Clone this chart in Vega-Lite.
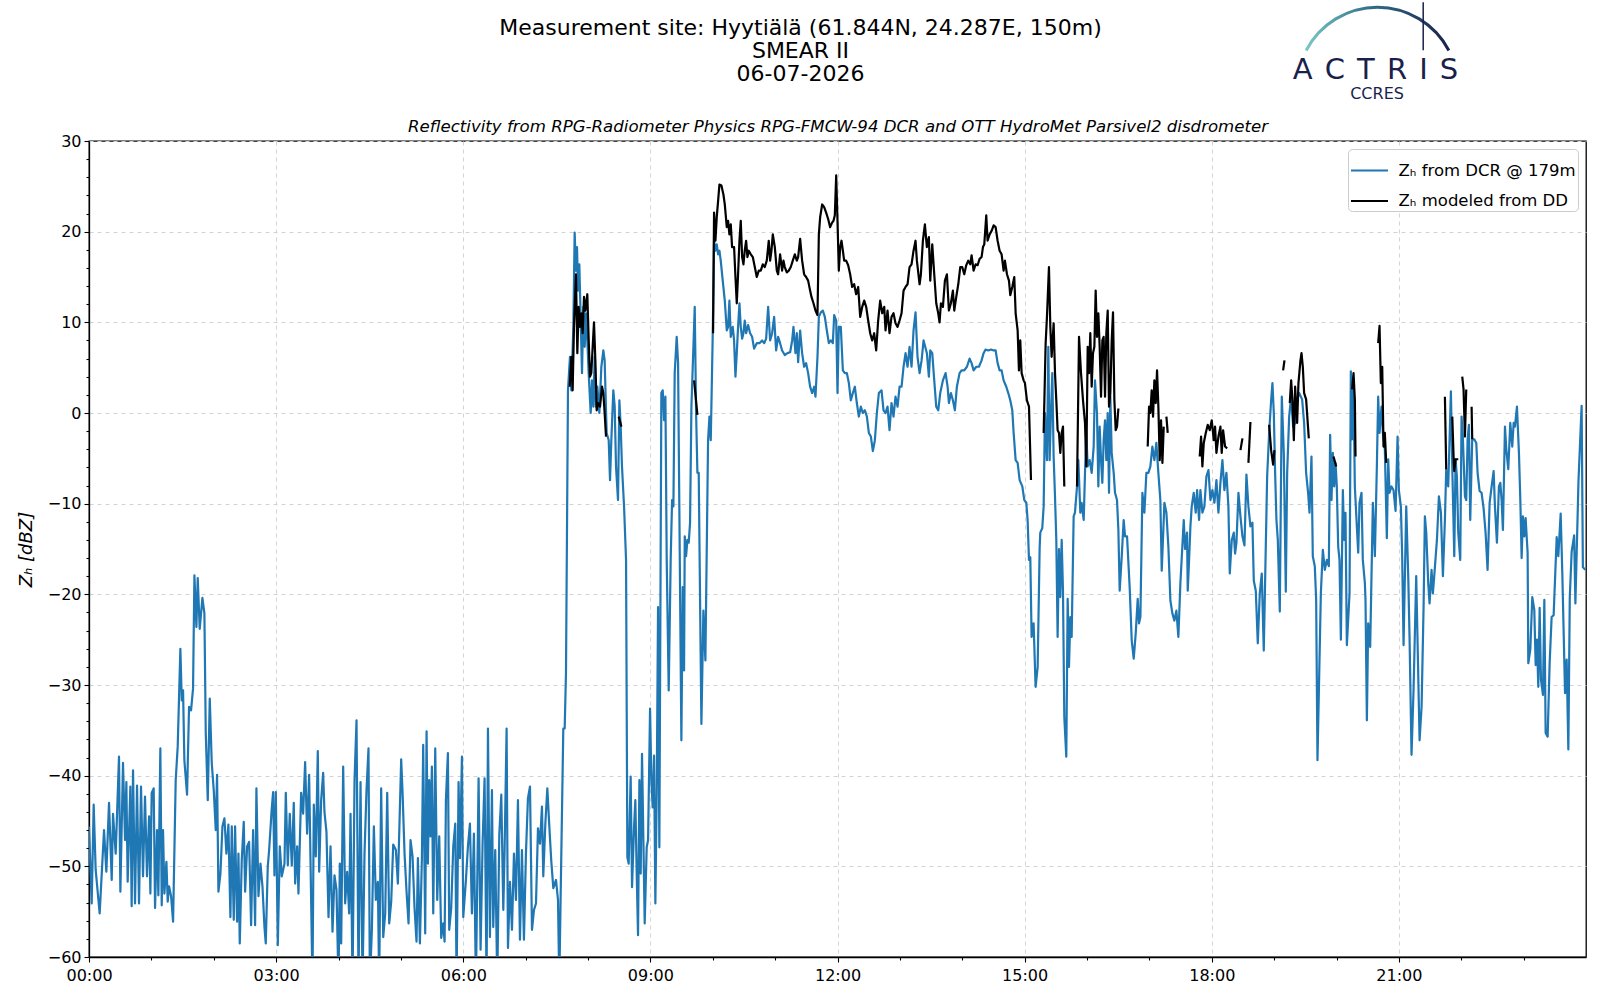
{
  "$schema": "https://vega.github.io/schema/vega-lite/v6.json",
  "width": 1497,
  "height": 816,
  "autosize": "none",
  "padding": {"left": 89, "top": 141, "right": 14, "bottom": 43},
  "background": "white",
  "config": {
    "font": "DejaVu Sans",
    "view": {"stroke": "black", "strokeWidth": 1.3},
    "axis": {"labelColor": "black", "tickColor": "black", "domainColor": "black", "tickWidth": 1.1, "domainWidth": 1.3},
    "legend": {
      "orient": "top-right", "offset": 8, "padding": 1.5, "rowPadding": 1.5,
      "fillColor": "white", "strokeColor": "#cccccc", "cornerRadius": 4,
      "symbolType": "stroke", "symbolSize": 1369, "symbolStrokeWidth": 2.2,
      "labelFontSize": 16.5, "labelOffset": 9, "labelColor": "black", "labelLimit": 400
    }
  },
  "title": {
    "text": ["Measurement site: Hyytiälä (61.844N, 24.287E, 150m)", "SMEAR II", "06-07-2026"],
    "fontSize": 22, "fontWeight": "normal", "lineHeight": 23, "color": "black",
    "anchor": "middle", "frame": "group", "dx": -37, "offset": -84
  },
  "datasets": {
    "logo": [{}],
    "dcr": [
      {"h":0.000,"z":-45.6},{"h":0.043,"z":-54.1},{"h":0.075,"z":-43.2},{"h":0.107,"z":-50.4},{"h":0.171,"z":-55.2},
      {"h":0.241,"z":-46},{"h":0.278,"z":-50.6},{"h":0.321,"z":-43},{"h":0.364,"z":-51.5},{"h":0.385,"z":-44.2},
      {"h":0.428,"z":-48.6},{"h":0.481,"z":-37.9},{"h":0.503,"z":-52.8},{"h":0.545,"z":-38.6},{"h":0.578,"z":-47.1},
      {"h":0.599,"z":-40.7},{"h":0.620,"z":-51.7},{"h":0.663,"z":-41.2},{"h":0.684,"z":-54.4},{"h":0.706,"z":-39.4},
      {"h":0.738,"z":-54.1},{"h":0.770,"z":-41.1},{"h":0.802,"z":-54.1},{"h":0.834,"z":-41.2},{"h":0.866,"z":-51.1},
      {"h":0.898,"z":-42.3},{"h":0.930,"z":-51.1},{"h":0.963,"z":-44.5},{"h":0.984,"z":-53},{"h":1.005,"z":-41.9},
      {"h":1.037,"z":-41.4},{"h":1.059,"z":-54.6},{"h":1.091,"z":-46},{"h":1.112,"z":-53.2},{"h":1.144,"z":-37},
      {"h":1.166,"z":-54.3},{"h":1.187,"z":-46},{"h":1.209,"z":-53},{"h":1.241,"z":-49.5},{"h":1.262,"z":-53.9},
      {"h":1.283,"z":-52.2},{"h":1.316,"z":-53.3},{"h":1.348,"z":-56.1},{"h":1.390,"z":-40.5},{"h":1.422,"z":-36.8},
      {"h":1.465,"z":-26},{"h":1.487,"z":-31.7},{"h":1.508,"z":-30.6},{"h":1.529,"z":-38.3},{"h":1.572,"z":-42.1},
      {"h":1.604,"z":-32.4},{"h":1.636,"z":-32.8},{"h":1.668,"z":-30.4},{"h":1.690,"z":-17.9},{"h":1.722,"z":-23.6},
      {"h":1.743,"z":-18.2},{"h":1.775,"z":-23.8},{"h":1.818,"z":-20.4},{"h":1.850,"z":-22.1},{"h":1.872,"z":-35.3},
      {"h":1.904,"z":-42.7},{"h":1.936,"z":-31.5},{"h":1.968,"z":-38.6},{"h":2.000,"z":-41.6},{"h":2.032,"z":-46},
      {"h":2.053,"z":-39.9},{"h":2.075,"z":-52.8},{"h":2.107,"z":-50.8},{"h":2.139,"z":-45.6},{"h":2.171,"z":-44.7},
      {"h":2.203,"z":-48.6},{"h":2.235,"z":-45.4},{"h":2.267,"z":-55.6},{"h":2.289,"z":-45.6},{"h":2.321,"z":-55.9},
      {"h":2.342,"z":-45.6},{"h":2.374,"z":-56.1},{"h":2.396,"z":-48.6},{"h":2.417,"z":-58.5},{"h":2.449,"z":-49.3},
      {"h":2.481,"z":-45.1},{"h":2.503,"z":-52.8},{"h":2.535,"z":-47.8},{"h":2.567,"z":-47.3},{"h":2.599,"z":-56.5},
      {"h":2.631,"z":-46},{"h":2.663,"z":-56.5},{"h":2.684,"z":-41.4},{"h":2.717,"z":-53.3},{"h":2.749,"z":-49.7},
      {"h":2.781,"z":-52.2},{"h":2.813,"z":-56.7},{"h":2.834,"z":-58.5},{"h":2.866,"z":-50},{"h":2.888,"z":-48.2},
      {"h":2.930,"z":-43.6},{"h":2.952,"z":-41.8},{"h":2.973,"z":-51},{"h":2.995,"z":-41.8},{"h":3.027,"z":-58.7},
      {"h":3.059,"z":-47.8},{"h":3.091,"z":-51.1},{"h":3.134,"z":-49.7},{"h":3.155,"z":-41.9},{"h":3.187,"z":-49.9},
      {"h":3.219,"z":-44.2},{"h":3.251,"z":-49.9},{"h":3.283,"z":-43},{"h":3.305,"z":-51.9},{"h":3.337,"z":-47.8},
      {"h":3.358,"z":-53},{"h":3.401,"z":-41.9},{"h":3.433,"z":-44.2},{"h":3.465,"z":-38.5},{"h":3.497,"z":-46.4},
      {"h":3.529,"z":-39.9},{"h":3.551,"z":-49.3},{"h":3.583,"z":-63},{"h":3.604,"z":-43.2},{"h":3.636,"z":-48.9},
      {"h":3.668,"z":-37.3},{"h":3.690,"z":-50.6},{"h":3.722,"z":-42.7},{"h":3.754,"z":-39.7},{"h":3.775,"z":-44},
      {"h":3.807,"z":-46.2},{"h":3.840,"z":-55.6},{"h":3.872,"z":-47.8},{"h":3.904,"z":-57.2},{"h":3.936,"z":-51},
      {"h":3.968,"z":-52.6},{"h":4.000,"z":-63},{"h":4.021,"z":-49.7},{"h":4.043,"z":-58.5},{"h":4.075,"z":-39},
      {"h":4.107,"z":-54.1},{"h":4.139,"z":-50.6},{"h":4.171,"z":-55.2},{"h":4.193,"z":-44.2},{"h":4.225,"z":-63},
      {"h":4.257,"z":-40.5},{"h":4.289,"z":-33.9},{"h":4.321,"z":-63},{"h":4.353,"z":-40.7},{"h":4.385,"z":-63},
      {"h":4.417,"z":-48.6},{"h":4.449,"z":-41.6},{"h":4.481,"z":-37},{"h":4.503,"z":-63},{"h":4.535,"z":-57},
      {"h":4.567,"z":-45.6},{"h":4.599,"z":-53.7},{"h":4.631,"z":-51.7},{"h":4.652,"z":-63},{"h":4.684,"z":-41.4},
      {"h":4.717,"z":-57.8},{"h":4.749,"z":-55.2},{"h":4.781,"z":-41.9},{"h":4.813,"z":-56.3},{"h":4.845,"z":-53.9},
      {"h":4.877,"z":-47.6},{"h":4.920,"z":-48.2},{"h":4.952,"z":-51.9},{"h":5.005,"z":-38.2},{"h":5.027,"z":-41.9},
      {"h":5.059,"z":-48.6},{"h":5.091,"z":-52.8},{"h":5.123,"z":-56.3},{"h":5.155,"z":-47.1},{"h":5.187,"z":-48.9},
      {"h":5.219,"z":-54.6},{"h":5.251,"z":-58.3},{"h":5.273,"z":-49.1},{"h":5.305,"z":-58.5},{"h":5.337,"z":-49.1},
      {"h":5.358,"z":-36.6},{"h":5.390,"z":-57.4},{"h":5.412,"z":-35.1},{"h":5.433,"z":-49.7},{"h":5.455,"z":-40.5},
      {"h":5.476,"z":-46.7},{"h":5.497,"z":-39},{"h":5.519,"z":-55.2},{"h":5.551,"z":-37},{"h":5.583,"z":-53.7},
      {"h":5.615,"z":-46.7},{"h":5.647,"z":-57.9},{"h":5.679,"z":-56.3},{"h":5.701,"z":-58.3},{"h":5.722,"z":-42.7},
      {"h":5.754,"z":-37.5},{"h":5.775,"z":-57},{"h":5.807,"z":-54.6},{"h":5.840,"z":-47.8},{"h":5.872,"z":-45.3},
      {"h":5.893,"z":-63},{"h":5.925,"z":-40.7},{"h":5.947,"z":-49.1},{"h":5.979,"z":-37.9},{"h":6.000,"z":-55.6},
      {"h":6.043,"z":-51.5},{"h":6.075,"z":-47.8},{"h":6.107,"z":-45.3},{"h":6.139,"z":-55.2},{"h":6.171,"z":-46.4},
      {"h":6.203,"z":-63},{"h":6.246,"z":-40.3},{"h":6.278,"z":-59.2},{"h":6.310,"z":-47.5},{"h":6.342,"z":-40.3},
      {"h":6.374,"z":-63},{"h":6.396,"z":-34.8},{"h":6.428,"z":-57.8},{"h":6.460,"z":-41.6},{"h":6.481,"z":-56.7},
      {"h":6.513,"z":-48.2},{"h":6.545,"z":-63},{"h":6.578,"z":-46.5},{"h":6.610,"z":-42.1},{"h":6.642,"z":-54.8},
      {"h":6.663,"z":-48.2},{"h":6.695,"z":-34.8},{"h":6.717,"z":-59},{"h":6.749,"z":-51.7},{"h":6.781,"z":-57},
      {"h":6.813,"z":-48.6},{"h":6.845,"z":-53.7},{"h":6.877,"z":-42.7},{"h":6.909,"z":-58.1},{"h":6.941,"z":-48.2},
      {"h":6.973,"z":-58.1},{"h":7.005,"z":-48.6},{"h":7.037,"z":-42.5},{"h":7.070,"z":-41.2},{"h":7.102,"z":-57},
      {"h":7.134,"z":-54.8},{"h":7.166,"z":-54.1},{"h":7.198,"z":-45.8},{"h":7.230,"z":-47.5},{"h":7.262,"z":-43.4},
      {"h":7.283,"z":-51.1},{"h":7.316,"z":-45.3},{"h":7.348,"z":-41.4},{"h":7.380,"z":-45.6},{"h":7.412,"z":-49.5},
      {"h":7.444,"z":-52.4},{"h":7.487,"z":-51.5},{"h":7.519,"z":-53.7},{"h":7.540,"z":-63},{"h":7.561,"z":-53.5},
      {"h":7.604,"z":-34.8},{"h":7.626,"z":-34.8},{"h":7.647,"z":-28.7},
      {"h":7.679,"z":2.5},{"h":7.711,"z":6.2},{"h":7.733,"z":2.5},{"h":7.765,"z":9.5},{"h":7.786,"z":19.9},
      {"h":7.807,"z":15.7},{"h":7.824,"z":18.3},{"h":7.840,"z":13.5},{"h":7.861,"z":16.4},{"h":7.882,"z":10.6},
      {"h":7.904,"z":4.4},{"h":7.925,"z":11.7},{"h":7.947,"z":7.3},{"h":7.968,"z":11},{"h":7.989,"z":8},
      {"h":8.011,"z":4.4},{"h":8.043,"z":0},{"h":8.064,"z":3.6},{"h":8.086,"z":0.7},{"h":8.107,"z":6.2},
      {"h":8.128,"z":0.7},{"h":8.150,"z":2.9},{"h":8.182,"z":0},{"h":8.214,"z":5.1},{"h":8.246,"z":6.9},
      {"h":8.267,"z":5.8},{"h":8.299,"z":-2.2},{"h":8.332,"z":-3},{"h":8.353,"z":-7.4},{"h":8.374,"z":-3},
      {"h":8.406,"z":2.5},{"h":8.428,"z":0.7},{"h":8.449,"z":-5.9},{"h":8.481,"z":-9.6},{"h":8.503,"z":1.4},
      {"h":8.524,"z":-1.5},{"h":8.545,"z":-5.9},{"h":8.578,"z":-10.3},{"h":8.610,"z":-16.2},{"h":8.631,"z":-49},
      {"h":8.652,"z":-49.7},{"h":8.684,"z":-40.1},{"h":8.706,"z":-52.3},{"h":8.738,"z":-45.7},{"h":8.759,"z":-42.7},
      {"h":8.781,"z":-50.8},{"h":8.802,"z":-57.6},{"h":8.824,"z":-40.5},{"h":8.845,"z":-50.8},{"h":8.866,"z":-37.6},
      {"h":8.888,"z":-47.1},{"h":8.909,"z":-56.3},{"h":8.941,"z":-47.9},{"h":8.963,"z":-47.1},{"h":8.995,"z":-32.6},
      {"h":9.016,"z":-40.5},{"h":9.037,"z":-43.5},{"h":9.059,"z":-37.8},{"h":9.080,"z":-54.1},{"h":9.102,"z":-41.6},
      {"h":9.123,"z":-21.4},{"h":9.144,"z":-47.9},{"h":9.176,"z":2.2},{"h":9.198,"z":2.5},{"h":9.219,"z":-0.8},
      {"h":9.241,"z":1.8},{"h":9.262,"z":-16.2},{"h":9.294,"z":-30.6},{"h":9.326,"z":-16},{"h":9.348,"z":-9.6},
      {"h":9.369,"z":-10.3},{"h":9.390,"z":4.4},{"h":9.422,"z":8.4},{"h":9.444,"z":5.5},{"h":9.497,"z":-36.1},
      {"h":9.519,"z":-19.2},{"h":9.540,"z":-28.4},{"h":9.551,"z":-13.6},{"h":9.572,"z":-15.8},{"h":9.594,"z":-14},
      {"h":9.615,"z":-14.3},{"h":9.636,"z":-12.1},{"h":9.658,"z":0.7},{"h":9.690,"z":7.3},{"h":9.711,"z":11.7},
      {"h":9.733,"z":0},{"h":9.754,"z":-6.6},{"h":9.775,"z":-6.6},{"h":9.818,"z":-34.3},{"h":9.850,"z":-21.8},
      {"h":9.882,"z":-27.3},{"h":9.925,"z":-3},{"h":9.947,"z":-0.4},{"h":9.968,"z":-3},{"h":10.000,"z":8.8},
      {"h":10.021,"z":19},{"h":10.043,"z":17.9},{"h":10.064,"z":18.6},{"h":10.086,"z":17.5},{"h":10.107,"z":17.9},
      {"h":10.128,"z":16.8},{"h":10.160,"z":14.6},{"h":10.193,"z":12.4},{"h":10.225,"z":9.1},{"h":10.246,"z":9.5},
      {"h":10.267,"z":12.4},{"h":10.289,"z":8.4},{"h":10.321,"z":9.5},{"h":10.342,"z":8},{"h":10.364,"z":4},
      {"h":10.385,"z":6.6},{"h":10.406,"z":9.5},{"h":10.428,"z":12.1},{"h":10.449,"z":9.5},{"h":10.471,"z":8.2},
      {"h":10.492,"z":8.8},{"h":10.513,"z":10.2},{"h":10.535,"z":8.8},{"h":10.567,"z":9.7},{"h":10.599,"z":8.8},
      {"h":10.631,"z":8.4},{"h":10.663,"z":7.1},{"h":10.706,"z":7.7},{"h":10.749,"z":7.7},{"h":10.791,"z":8},
      {"h":10.824,"z":7.7},{"h":10.856,"z":8.2},{"h":10.888,"z":11.7},{"h":10.920,"z":8},{"h":10.952,"z":8.8},
      {"h":10.984,"z":10.6},{"h":11.016,"z":6.9},{"h":11.048,"z":8.4},{"h":11.080,"z":7.7},{"h":11.112,"z":6.9},
      {"h":11.155,"z":6.4},{"h":11.198,"z":6.6},{"h":11.241,"z":6.7},{"h":11.273,"z":8},{"h":11.294,"z":9.5},
      {"h":11.326,"z":6.6},{"h":11.348,"z":8.8},{"h":11.369,"z":5.6},{"h":11.401,"z":9.1},{"h":11.433,"z":6.6},
      {"h":11.465,"z":5.1},{"h":11.497,"z":5.5},{"h":11.529,"z":4.4},{"h":11.561,"z":2.9},{"h":11.594,"z":2.2},
      {"h":11.626,"z":2.9},{"h":11.647,"z":1.8},{"h":11.679,"z":6.2},{"h":11.701,"z":10.6},{"h":11.733,"z":11.1},
      {"h":11.765,"z":11.3},{"h":11.797,"z":10.6},{"h":11.829,"z":9.1},{"h":11.861,"z":7.7},{"h":11.893,"z":8},
      {"h":11.925,"z":7.7},{"h":11.947,"z":10.8},{"h":11.979,"z":10.2},{"h":12.000,"z":2.2},{"h":12.021,"z":9.5},
      {"h":12.053,"z":9.5},{"h":12.086,"z":4.7},{"h":12.118,"z":4.4},{"h":12.150,"z":4.4},{"h":12.182,"z":3.3},
      {"h":12.214,"z":1.4},{"h":12.246,"z":2.2},{"h":12.278,"z":2.9},{"h":12.310,"z":1.1},{"h":12.342,"z":-0.4},
      {"h":12.374,"z":0.7},{"h":12.406,"z":0},{"h":12.439,"z":0.3},{"h":12.471,"z":-0.4},{"h":12.503,"z":-2.2},
      {"h":12.535,"z":-2.6},{"h":12.567,"z":-4.2},{"h":12.599,"z":-3},{"h":12.631,"z":0},{"h":12.663,"z":2.2},
      {"h":12.706,"z":2.5},{"h":12.738,"z":0.3},{"h":12.770,"z":0},{"h":12.802,"z":0.7},{"h":12.834,"z":-1.9},
      {"h":12.866,"z":1.1},{"h":12.898,"z":-0.4},{"h":12.930,"z":1.8},{"h":12.963,"z":0.7},{"h":12.995,"z":2.9},
      {"h":13.027,"z":2.9},{"h":13.059,"z":5.1},{"h":13.091,"z":6.6},{"h":13.123,"z":5.1},{"h":13.155,"z":7.3},
      {"h":13.187,"z":5.1},{"h":13.219,"z":9.1},{"h":13.251,"z":11.1},{"h":13.283,"z":6.2},{"h":13.316,"z":4.4},
      {"h":13.348,"z":5.8},{"h":13.380,"z":8},
      {"h":13.433,"z":6.6},{"h":13.465,"z":4},{"h":13.487,"z":6.9},{"h":13.519,"z":6.6},{"h":13.551,"z":3.6},
      {"h":13.583,"z":0.7},{"h":13.615,"z":0.3},{"h":13.647,"z":2.2},{"h":13.690,"z":3.6},{"h":13.733,"z":4.4},
      {"h":13.765,"z":2.9},{"h":13.786,"z":1.1},{"h":13.818,"z":2.2},{"h":13.850,"z":1.4},{"h":13.882,"z":0.3},
      {"h":13.914,"z":2.9},{"h":13.957,"z":4.4},{"h":13.989,"z":4.7},{"h":14.032,"z":4.7},{"h":14.075,"z":5.1},
      {"h":14.118,"z":6},{"h":14.150,"z":5.5},{"h":14.182,"z":4.7},{"h":14.225,"z":5.1},{"h":14.267,"z":5.1},
      {"h":14.310,"z":5.8},{"h":14.342,"z":6.6},{"h":14.374,"z":7},{"h":14.417,"z":6.9},{"h":14.460,"z":7},
      {"h":14.503,"z":6.9},{"h":14.535,"z":6.9},{"h":14.567,"z":5.5},{"h":14.599,"z":4.7},{"h":14.631,"z":4.7},
      {"h":14.663,"z":3.6},{"h":14.706,"z":2.9},{"h":14.738,"z":2.2},{"h":14.770,"z":1.4},{"h":14.802,"z":0.3},
      {"h":14.824,"z":-2.2},{"h":14.856,"z":-5.2},{"h":14.888,"z":-5.5},{"h":14.920,"z":-7.4},{"h":14.963,"z":-8.1},
      {"h":14.995,"z":-9.6},{"h":15.027,"z":-9.9},{"h":15.048,"z":-11.8},{"h":15.070,"z":-16.2},{"h":15.091,"z":-15.9},
      {"h":15.112,"z":-24.7},{"h":15.144,"z":-23.2},{"h":15.176,"z":-30.2},{"h":15.209,"z":-28},{"h":15.241,"z":-14.8},
      {"h":15.251,"z":-13.2},{"h":15.283,"z":-12.7},{"h":15.305,"z":-10.3},{"h":15.326,"z":0},{"h":15.358,"z":-5.2},
      {"h":15.380,"z":7.3},{"h":15.401,"z":-5.2},{"h":15.422,"z":0},{"h":15.444,"z":4.4},{"h":15.465,"z":-4.8},
      {"h":15.487,"z":-9.2},{"h":15.508,"z":-14},{"h":15.529,"z":-24.7},{"h":15.551,"z":-15},{"h":15.572,"z":-20.3},
      {"h":15.594,"z":-14},{"h":15.615,"z":-19.6},{"h":15.636,"z":-33.5},{"h":15.668,"z":-37.9},{"h":15.690,"z":-20.5},
      {"h":15.711,"z":-28},{"h":15.733,"z":-22.5},{"h":15.754,"z":-24.7},{"h":15.786,"z":-11.4},{"h":15.807,"z":-11},
      {"h":15.840,"z":-8.1},{"h":15.861,"z":-5.2},{"h":15.893,"z":-11},{"h":15.914,"z":-9.9},{"h":15.947,"z":-11.8},
      {"h":15.968,"z":-6.6},{"h":15.989,"z":-2.2},{"h":16.011,"z":-5.9},{"h":16.043,"z":-5.2},{"h":16.075,"z":-6.6},
      {"h":16.107,"z":-3.7},{"h":16.128,"z":3.6},{"h":16.160,"z":0},{"h":16.182,"z":-8.1},{"h":16.203,"z":-1.5},
      {"h":16.225,"z":-5.2},{"h":16.246,"z":-7.7},{"h":16.267,"z":-3},{"h":16.289,"z":-0.8},{"h":16.310,"z":-5.2},
      {"h":16.332,"z":0},{"h":16.353,"z":-8.8},{"h":16.374,"z":1.8},{"h":16.396,"z":-4.4},{"h":16.428,"z":-6.6},
      {"h":16.449,"z":-8.8},{"h":16.481,"z":-9.6},{"h":16.503,"z":-12.9},{"h":16.524,"z":-19.6},{"h":16.556,"z":-15.9},
      {"h":16.588,"z":-11.8},{"h":16.610,"z":-13.6},{"h":16.642,"z":-13.6},{"h":16.684,"z":-19.2},{"h":16.717,"z":-25.1},
      {"h":16.749,"z":-27.1},{"h":16.781,"z":-24.3},{"h":16.813,"z":-20.5},{"h":16.834,"z":-23.2},{"h":16.856,"z":-22.5},
      {"h":16.888,"z":-8.8},{"h":16.920,"z":-11},{"h":16.952,"z":-6.6},{"h":16.984,"z":-6.6},{"h":17.016,"z":-5.9},
      {"h":17.048,"z":-3.7},{"h":17.080,"z":-5.2},{"h":17.112,"z":-3.3},{"h":17.144,"z":-6.6},{"h":17.176,"z":-9.6},
      {"h":17.198,"z":-17.4},{"h":17.241,"z":-9.9},{"h":17.273,"z":-11},{"h":17.305,"z":-14.8},{"h":17.337,"z":-20.7},
      {"h":17.369,"z":-22.1},{"h":17.401,"z":-22.9},{"h":17.433,"z":-21.8},{"h":17.465,"z":-24.7},{"h":17.497,"z":-18.8},
      {"h":17.551,"z":-11.8},{"h":17.572,"z":-15},{"h":17.604,"z":-13.2},{"h":17.615,"z":-19.6},{"h":17.636,"z":-16.3},
      {"h":17.658,"z":-12.5},{"h":17.679,"z":-10.3},{"h":17.711,"z":-8.8},{"h":17.743,"z":-11},{"h":17.765,"z":-8.5},
      {"h":17.797,"z":-11.8},{"h":17.818,"z":-8.5},{"h":17.850,"z":-11},{"h":17.882,"z":-10.3},{"h":17.914,"z":-7},
      {"h":17.947,"z":-6.3},{"h":17.979,"z":-9.6},{"h":18.011,"z":-8.5},{"h":18.043,"z":-9.9},{"h":18.075,"z":-7.4},
      {"h":18.107,"z":-11},{"h":18.139,"z":-7.7},{"h":18.171,"z":-5.2},{"h":18.203,"z":-8.5},{"h":18.235,"z":-6.6},
      {"h":18.267,"z":-10.3},{"h":18.289,"z":-17.7},{"h":18.321,"z":-14},{"h":18.353,"z":-13.2},{"h":18.374,"z":-15.5},
      {"h":18.396,"z":-14.3},{"h":18.428,"z":-8.8},{"h":18.460,"z":-11.4},{"h":18.492,"z":-13.6},{"h":18.524,"z":-14.6},
      {"h":18.556,"z":-6.8},{"h":18.588,"z":-10.3},{"h":18.620,"z":-12.5},{"h":18.652,"z":-12.1},{"h":18.674,"z":-18.5},
      {"h":18.706,"z":-19.6},{"h":18.738,"z":-25.4},{"h":18.770,"z":-19.9},{"h":18.802,"z":-17.7},{"h":18.834,"z":-26.2},
      {"h":18.888,"z":-7},{"h":18.920,"z":-2.2},{"h":18.952,"z":1.4},{"h":18.973,"z":3.3},{"h":18.995,"z":0},
      {"h":19.016,"z":-6.6},{"h":19.037,"z":-11.8},{"h":19.059,"z":-14},{"h":19.091,"z":-21.9},{"h":19.123,"z":1.8},
      {"h":19.155,"z":-4.4},{"h":19.187,"z":-19.7},{"h":19.209,"z":-6.6},{"h":19.241,"z":-0.4},{"h":19.273,"z":1.8},
      {"h":19.305,"z":-1.5},{"h":19.337,"z":-1.1},{"h":19.369,"z":1.4},{"h":19.401,"z":2.2},
      {"h":19.449,"z":1.5},{"h":19.481,"z":-1.1},{"h":19.513,"z":-6.6},{"h":19.545,"z":-8.8},{"h":19.567,"z":-11},
      {"h":19.599,"z":-4.8},{"h":19.620,"z":-15.8},{"h":19.652,"z":-16.9},{"h":19.674,"z":-20.6},{"h":19.695,"z":-38.3},
      {"h":19.749,"z":-19.9},{"h":19.781,"z":-15.1},{"h":19.813,"z":-17.3},{"h":19.845,"z":-16.2},{"h":19.877,"z":-16.9},
      {"h":19.898,"z":-2.4},{"h":19.920,"z":-9.6},{"h":19.941,"z":-4.4},{"h":19.963,"z":-8.1},{"h":19.984,"z":-5.5},
      {"h":20.005,"z":-8.1},{"h":20.027,"z":-14.7},{"h":20.048,"z":-16.2},{"h":20.070,"z":-25},{"h":20.102,"z":-8.5},
      {"h":20.123,"z":-14},{"h":20.144,"z":-11},{"h":20.166,"z":-25.6},{"h":20.209,"z":-19.9},{"h":20.230,"z":4.6},
      {"h":20.251,"z":-2.9},{"h":20.273,"z":2.9},{"h":20.294,"z":-8.1},{"h":20.326,"z":-12.5},{"h":20.348,"z":-15.4},
      {"h":20.369,"z":-9.9},{"h":20.401,"z":-8.8},{"h":20.422,"z":-16.2},{"h":20.455,"z":-18.8},{"h":20.465,"z":-20.6},
      {"h":20.487,"z":-33.9},{"h":20.508,"z":-23.2},{"h":20.540,"z":-25.8},{"h":20.583,"z":-9.9},{"h":20.615,"z":-15.8},
      {"h":20.647,"z":-5.9},{"h":20.668,"z":1.8},{"h":20.690,"z":-2.2},{"h":20.722,"z":0.7},{"h":20.743,"z":-2.2},
      {"h":20.775,"z":-4},{"h":20.807,"z":-13.8},{"h":20.829,"z":-5.1},{"h":20.850,"z":-8.8},{"h":20.882,"z":-8.1},
      {"h":20.914,"z":-8.5},{"h":20.947,"z":-10.8},{"h":20.979,"z":-2.6},{"h":21.000,"z":-8.5},{"h":21.032,"z":-10.3},
      {"h":21.053,"z":-15.8},{"h":21.075,"z":-25.6},{"h":21.118,"z":-10.3},{"h":21.150,"z":-18},{"h":21.171,"z":-24.7},
      {"h":21.203,"z":-37.7},{"h":21.235,"z":-30.6},{"h":21.278,"z":-18},{"h":21.332,"z":-36.1},{"h":21.364,"z":-32.4},
      {"h":21.396,"z":-21.4},{"h":21.417,"z":-11.4},{"h":21.439,"z":-13.2},{"h":21.471,"z":-18.8},{"h":21.492,"z":-21},
      {"h":21.524,"z":-17.3},{"h":21.545,"z":-19.9},{"h":21.567,"z":-18},{"h":21.610,"z":-14},{"h":21.642,"z":-9.2},
      {"h":21.674,"z":-11},{"h":21.706,"z":-18},{"h":21.738,"z":-11.8},{"h":21.759,"z":-6.2},{"h":21.791,"z":-8.1},
      {"h":21.813,"z":-2.9},{"h":21.834,"z":2.4},{"h":21.856,"z":-5.9},{"h":21.888,"z":-15.8},{"h":21.909,"z":-5.1},
      {"h":21.930,"z":-7},{"h":21.952,"z":-13.2},{"h":21.984,"z":-16.2},{"h":22.005,"z":-0.4},{"h":22.027,"z":-2.9},
      {"h":22.059,"z":-9.2},{"h":22.080,"z":-9.6},{"h":22.102,"z":-2.9},{"h":22.123,"z":-1.3},{"h":22.144,"z":-11.8},
      {"h":22.176,"z":-2.9},{"h":22.209,"z":-2.9},{"h":22.241,"z":-3.3},{"h":22.262,"z":-6.6},{"h":22.294,"z":-8.6},
      {"h":22.326,"z":-8.8},{"h":22.358,"z":-10.5},{"h":22.390,"z":-13.2},{"h":22.422,"z":-17.3},{"h":22.455,"z":-9.9},
      {"h":22.487,"z":-8.1},{"h":22.519,"z":-6.4},{"h":22.540,"z":-10.3},{"h":22.572,"z":-14.3},{"h":22.604,"z":-8.1},
      {"h":22.626,"z":-7.7},{"h":22.647,"z":-9.6},{"h":22.668,"z":-12.9},{"h":22.701,"z":-1.5},{"h":22.722,"z":-4},
      {"h":22.754,"z":-6.2},{"h":22.786,"z":-1.1},{"h":22.818,"z":-3.7},{"h":22.840,"z":-1.1},{"h":22.861,"z":-1.5},
      {"h":22.893,"z":0.7},{"h":22.925,"z":-4.4},{"h":22.947,"z":-9.6},{"h":22.968,"z":-16},{"h":22.989,"z":-11.4},
      {"h":23.011,"z":-13.6},{"h":23.032,"z":-11.6},{"h":23.064,"z":-15.4},{"h":23.075,"z":-27.6},{"h":23.107,"z":-26.1},
      {"h":23.139,"z":-20.3},{"h":23.171,"z":-21.7},{"h":23.193,"z":-27.8},{"h":23.214,"z":-25},{"h":23.235,"z":-30.2},
      {"h":23.257,"z":-21.5},{"h":23.278,"z":-29.4},{"h":23.310,"z":-31.1},{"h":23.332,"z":-20.6},{"h":23.353,"z":-35.3},
      {"h":23.385,"z":-35.7},{"h":23.417,"z":-27.6},{"h":23.449,"z":-22.5},{"h":23.481,"z":-22.3},{"h":23.530,"z":-13.7},
      {"h":23.556,"z":-15.8},{"h":23.594,"z":-11.1},{"h":23.620,"z":-17.6},{"h":23.664,"z":-30.9},{"h":23.690,"z":-27.2},
      {"h":23.717,"z":-37.1},{"h":23.740,"z":-20.3},{"h":23.770,"z":-15.3},{"h":23.810,"z":-13.5},{"h":23.830,"z":-21},
      {"h":23.880,"z":-7.4},{"h":23.930,"z":0.8},{"h":23.950,"z":-17},{"h":23.990,"z":-17.3}
    ],
    "dd": [
      {"h":7.706,"z":2.9,"seg":1},{"h":7.733,"z":6.2,"seg":1},{"h":7.754,"z":2.5,"seg":1},{"h":7.775,"z":9.5,"seg":1},
      {"h":7.807,"z":15.3,"seg":1},{"h":7.829,"z":6.6,"seg":1},{"h":7.850,"z":11.7,"seg":1},{"h":7.872,"z":9.5,"seg":1},
      {"h":7.893,"z":11,"seg":1},{"h":7.914,"z":8.8,"seg":1},{"h":7.936,"z":12.8,"seg":1},{"h":7.957,"z":11.3,"seg":1},
      {"h":7.989,"z":13.1,"seg":1},{"h":8.011,"z":8,"seg":1},{"h":8.032,"z":4,"seg":1},{"h":8.053,"z":4.4,"seg":1},
      {"h":8.075,"z":7.3,"seg":1},{"h":8.096,"z":10,"seg":1},{"h":8.118,"z":5.8,"seg":1},{"h":8.139,"z":0.3,"seg":1},
      {"h":8.160,"z":1.1,"seg":1},{"h":8.193,"z":0.7,"seg":1},{"h":8.225,"z":2.9,"seg":1},{"h":8.246,"z":2.2,"seg":1},
      {"h":8.267,"z":0,"seg":1},{"h":8.289,"z":-2.6,"seg":1},
      {"h":8.492,"z":-0.4,"seg":2},{"h":8.535,"z":-1.5,"seg":2},
      {"h":9.701,"z":3.6,"seg":3},{"h":9.754,"z":-0.2,"seg":3},
      {"h":10.005,"z":8.8,"seg":4},{"h":10.021,"z":22.1,"seg":4},{"h":10.043,"z":19,"seg":4},{"h":10.064,"z":21.6,"seg":4},
      {"h":10.086,"z":23.4,"seg":4},{"h":10.107,"z":25.2,"seg":4},{"h":10.139,"z":25.1,"seg":4},{"h":10.171,"z":24.1,"seg":4},
      {"h":10.193,"z":23,"seg":4},{"h":10.225,"z":20.5,"seg":4},{"h":10.246,"z":21.2,"seg":4},{"h":10.267,"z":19.7,"seg":4},
      {"h":10.289,"z":20.8,"seg":4},{"h":10.310,"z":18.3,"seg":4},{"h":10.342,"z":18.3,"seg":4},{"h":10.364,"z":15,"seg":4},
      {"h":10.385,"z":12.1,"seg":4},{"h":10.406,"z":15.3,"seg":4},{"h":10.428,"z":19,"seg":4},{"h":10.449,"z":21.2,"seg":4},
      {"h":10.471,"z":17.2,"seg":4},{"h":10.492,"z":16.4,"seg":4},{"h":10.513,"z":17.9,"seg":4},{"h":10.535,"z":19,"seg":4},
      {"h":10.556,"z":17.2,"seg":4},{"h":10.578,"z":17.9,"seg":4},{"h":10.610,"z":17.5,"seg":4},{"h":10.642,"z":17.2,"seg":4},
      {"h":10.674,"z":16.1,"seg":4},{"h":10.706,"z":15,"seg":4},{"h":10.738,"z":15.7,"seg":4},{"h":10.770,"z":15.7,"seg":4},
      {"h":10.802,"z":16.4,"seg":4},{"h":10.834,"z":16.1,"seg":4},{"h":10.866,"z":16.8,"seg":4},{"h":10.898,"z":19,"seg":4},
      {"h":10.920,"z":16.8,"seg":4},{"h":10.941,"z":17.9,"seg":4},{"h":10.963,"z":19.7,"seg":4},{"h":10.995,"z":18.3,"seg":4},
      {"h":11.027,"z":15.7,"seg":4},{"h":11.048,"z":15.3,"seg":4},{"h":11.080,"z":17.5,"seg":4},{"h":11.112,"z":15.7,"seg":4},
      {"h":11.134,"z":16.8,"seg":4},{"h":11.155,"z":16.1,"seg":4},{"h":11.187,"z":15.5,"seg":4},{"h":11.219,"z":15.7,"seg":4},
      {"h":11.251,"z":16.1,"seg":4},{"h":11.283,"z":16.8,"seg":4},{"h":11.316,"z":17.5,"seg":4},{"h":11.348,"z":16.8,"seg":4},
      {"h":11.369,"z":17.2,"seg":4},{"h":11.401,"z":19.2,"seg":4},{"h":11.433,"z":16.8,"seg":4},{"h":11.465,"z":15.3,"seg":4},
      {"h":11.497,"z":15,"seg":4},{"h":11.529,"z":14.6,"seg":4},{"h":11.561,"z":13.5,"seg":4},{"h":11.583,"z":12.8,"seg":4},
      {"h":11.615,"z":12.1,"seg":4},{"h":11.647,"z":11.3,"seg":4},{"h":11.679,"z":10.8,"seg":4},{"h":11.701,"z":19.7,"seg":4},
      {"h":11.722,"z":21.6,"seg":4},{"h":11.754,"z":23,"seg":4},{"h":11.786,"z":22.7,"seg":4},{"h":11.818,"z":22.1,"seg":4},
      {"h":11.850,"z":21.4,"seg":4},{"h":11.882,"z":20.5,"seg":4},{"h":11.914,"z":21,"seg":4},{"h":11.936,"z":21.2,"seg":4},
      {"h":11.957,"z":21.8,"seg":4},{"h":11.979,"z":26.2,"seg":4},{"h":12.000,"z":21.2,"seg":4},{"h":12.021,"z":15.7,"seg":4},
      {"h":12.043,"z":18.3,"seg":4},{"h":12.064,"z":19,"seg":4},{"h":12.086,"z":17.9,"seg":4},{"h":12.107,"z":16.8,"seg":4},
      {"h":12.139,"z":16.8,"seg":4},{"h":12.171,"z":16.3,"seg":4},{"h":12.203,"z":15.3,"seg":4},{"h":12.235,"z":13.9,"seg":4},
      {"h":12.267,"z":14.2,"seg":4},{"h":12.299,"z":13.1,"seg":4},{"h":12.332,"z":13.9,"seg":4},{"h":12.364,"z":10.6,"seg":4},
      {"h":12.396,"z":11.7,"seg":4},{"h":12.428,"z":12.4,"seg":4},{"h":12.460,"z":11.7,"seg":4},{"h":12.492,"z":10.2,"seg":4},
      {"h":12.524,"z":8.8,"seg":4},{"h":12.556,"z":8,"seg":4},{"h":12.588,"z":8.8,"seg":4},{"h":12.620,"z":6.9,"seg":4},
      {"h":12.652,"z":10.2,"seg":4},{"h":12.684,"z":12.4,"seg":4},{"h":12.717,"z":11,"seg":4},{"h":12.749,"z":11.7,"seg":4},
      {"h":12.770,"z":9.1,"seg":4},{"h":12.802,"z":11.3,"seg":4},{"h":12.834,"z":8.8,"seg":4},{"h":12.866,"z":10.6,"seg":4},
      {"h":12.898,"z":11,"seg":4},{"h":12.930,"z":9.9,"seg":4},{"h":12.963,"z":9.5,"seg":4},{"h":12.995,"z":10.2,"seg":4},
      {"h":13.027,"z":11,"seg":4},{"h":13.059,"z":13.5,"seg":4},{"h":13.091,"z":13.9,"seg":4},{"h":13.123,"z":14.2,"seg":4},
      {"h":13.155,"z":16.1,"seg":4},{"h":13.187,"z":16.4,"seg":4},{"h":13.219,"z":17.9,"seg":4},{"h":13.251,"z":19,"seg":4},
      {"h":13.273,"z":16.8,"seg":4},{"h":13.316,"z":14.2,"seg":4},{"h":13.337,"z":15.3,"seg":4},{"h":13.369,"z":19,"seg":4},
      {"h":13.401,"z":20.8,"seg":4},{"h":13.433,"z":18.3,"seg":4},{"h":13.465,"z":19.4,"seg":4},{"h":13.487,"z":14.6,"seg":4},
      {"h":13.519,"z":18.6,"seg":4},{"h":13.551,"z":15.3,"seg":4},{"h":13.583,"z":12.1,"seg":4},{"h":13.615,"z":11,"seg":4},
      {"h":13.636,"z":10,"seg":4},{"h":13.658,"z":12.1,"seg":4},{"h":13.690,"z":11.7,"seg":4},{"h":13.722,"z":14.6,"seg":4},
      {"h":13.754,"z":15.3,"seg":4},{"h":13.786,"z":11.3,"seg":4},{"h":13.818,"z":12.1,"seg":4},{"h":13.850,"z":13.5,"seg":4},
      {"h":13.872,"z":11.3,"seg":4},{"h":13.904,"z":12.8,"seg":4},{"h":13.936,"z":14.2,"seg":4},{"h":13.968,"z":16.1,"seg":4},
      {"h":14.000,"z":16.1,"seg":4},{"h":14.032,"z":15.3,"seg":4},{"h":14.064,"z":16.3,"seg":4},{"h":14.096,"z":16.8,"seg":4},
      {"h":14.128,"z":16.4,"seg":4},{"h":14.150,"z":17.4,"seg":4},{"h":14.182,"z":15.7,"seg":4},{"h":14.214,"z":16.4,"seg":4},
      {"h":14.246,"z":16.3,"seg":4},{"h":14.278,"z":17,"seg":4},{"h":14.310,"z":17.2,"seg":4},{"h":14.332,"z":18.3,"seg":4},
      {"h":14.353,"z":18.6,"seg":4},{"h":14.385,"z":21.8,"seg":4},{"h":14.406,"z":19,"seg":4},{"h":14.439,"z":19.7,"seg":4},
      {"h":14.471,"z":20.1,"seg":4},{"h":14.503,"z":20.7,"seg":4},{"h":14.535,"z":20.5,"seg":4},{"h":14.567,"z":19,"seg":4},
      {"h":14.599,"z":17.9,"seg":4},{"h":14.631,"z":17.5,"seg":4},{"h":14.663,"z":15.7,"seg":4},{"h":14.684,"z":16.8,"seg":4},
      {"h":14.717,"z":15.3,"seg":4},{"h":14.749,"z":14.6,"seg":4},{"h":14.770,"z":13,"seg":4},{"h":14.802,"z":13.9,"seg":4},
      {"h":14.834,"z":15,"seg":4},{"h":14.856,"z":11,"seg":4},{"h":14.888,"z":9.1,"seg":4},{"h":14.909,"z":4.7,"seg":4},
      {"h":14.930,"z":8,"seg":4},{"h":14.952,"z":4.4,"seg":4},{"h":14.984,"z":3.6,"seg":4},{"h":15.005,"z":3.3,"seg":4},
      {"h":15.037,"z":1.4,"seg":4},{"h":15.070,"z":0.7,"seg":4},{"h":15.102,"z":-7.4,"seg":4},
      {"h":15.305,"z":-2.2,"seg":5},{"h":15.337,"z":7.7,"seg":5},{"h":15.358,"z":10.6,"seg":5},{"h":15.390,"z":16.1,"seg":5},
      {"h":15.412,"z":9.5,"seg":5},{"h":15.433,"z":6.2,"seg":5},{"h":15.465,"z":9.9,"seg":5},{"h":15.487,"z":4.4,"seg":5},
      {"h":15.508,"z":1.4,"seg":5},{"h":15.529,"z":-1.9,"seg":5},{"h":15.551,"z":-2.2,"seg":5},{"h":15.572,"z":-4.4,"seg":5},
      {"h":15.594,"z":-2.2,"seg":5},{"h":15.615,"z":-1.5,"seg":5},{"h":15.636,"z":-8.1,"seg":5},
      {"h":15.840,"z":-8.1,"seg":6},{"h":15.872,"z":8.4,"seg":6},{"h":15.904,"z":4.4,"seg":6},{"h":15.936,"z":1.4,"seg":6},
      {"h":15.968,"z":-1.1,"seg":6},{"h":15.989,"z":-5.9,"seg":6},{"h":16.011,"z":7.3,"seg":6},{"h":16.032,"z":4.4,"seg":6},
      {"h":16.053,"z":8.8,"seg":6},{"h":16.075,"z":2.9,"seg":6},{"h":16.096,"z":6.6,"seg":6},{"h":16.118,"z":7.3,"seg":6},
      {"h":16.139,"z":13.5,"seg":6},{"h":16.160,"z":8.4,"seg":6},{"h":16.182,"z":11,"seg":6},{"h":16.203,"z":7.3,"seg":6},
      {"h":16.225,"z":1.8,"seg":6},{"h":16.246,"z":8,"seg":6},{"h":16.267,"z":8.4,"seg":6},{"h":16.289,"z":1.8,"seg":6},
      {"h":16.310,"z":8.8,"seg":6},{"h":16.332,"z":11.3,"seg":6},{"h":16.353,"z":0.7,"seg":6},{"h":16.374,"z":2.2,"seg":6},
      {"h":16.396,"z":8,"seg":6},{"h":16.417,"z":11.1,"seg":6},{"h":16.439,"z":1.4,"seg":6},{"h":16.460,"z":-1.9,"seg":6},
      {"h":16.481,"z":-1.5,"seg":6},{"h":16.503,"z":0.5,"seg":6},
      {"h":16.973,"z":-3.7,"seg":7},{"h":16.995,"z":0.7,"seg":7},{"h":17.016,"z":0,"seg":7},{"h":17.037,"z":2.5,"seg":7},
      {"h":17.059,"z":-0.4,"seg":7},{"h":17.080,"z":3.6,"seg":7},{"h":17.102,"z":1.1,"seg":7},{"h":17.123,"z":4.7,"seg":7},
      {"h":17.144,"z":0.7,"seg":7},{"h":17.166,"z":-5.2,"seg":7},{"h":17.187,"z":-0.8,"seg":7},{"h":17.209,"z":-5.5,"seg":7},
      {"h":17.230,"z":-1.5,"seg":7},
      {"h":17.273,"z":-0.4,"seg":8},{"h":17.294,"z":-2.2,"seg":8},
      {"h":17.807,"z":-4.8,"seg":9},{"h":17.829,"z":-2.6,"seg":9},{"h":17.850,"z":-5.9,"seg":9},{"h":17.872,"z":-3.3,"seg":9},
      {"h":17.904,"z":-2.2,"seg":9},{"h":17.936,"z":-1.3,"seg":9},{"h":17.968,"z":-1.9,"seg":9},{"h":18.000,"z":-0.8,"seg":9},
      {"h":18.032,"z":-3,"seg":9},{"h":18.053,"z":-1.5,"seg":9},{"h":18.075,"z":-4.4,"seg":9},{"h":18.107,"z":-2.6,"seg":9},
      {"h":18.139,"z":-1.5,"seg":9},{"h":18.160,"z":-4.4,"seg":9},{"h":18.182,"z":-1.9,"seg":9},{"h":18.214,"z":-3.7,"seg":9},
      {"h":18.246,"z":-3.9,"seg":9},
      {"h":18.460,"z":-4.1,"seg":10},{"h":18.492,"z":-2.8,"seg":10},
      {"h":18.588,"z":-5.5,"seg":11},{"h":18.620,"z":-1,"seg":11},
      {"h":18.920,"z":-1.3,"seg":12},{"h":18.952,"z":-4.1,"seg":12},{"h":18.984,"z":-5.7,"seg":12},{"h":19.005,"z":-4.1,"seg":12},
      {"h":19.144,"z":4.7,"seg":13},{"h":19.166,"z":5.8,"seg":13},
      {"h":19.251,"z":1.1,"seg":14},{"h":19.273,"z":3.6,"seg":14},{"h":19.294,"z":1.4,"seg":14},{"h":19.316,"z":-3,"seg":14},
      {"h":19.337,"z":2.9,"seg":14},{"h":19.369,"z":-1.1,"seg":14},{"h":19.390,"z":3.3,"seg":14},{"h":19.422,"z":5.8,"seg":14},
      {"h":19.439,"z":6.6,"seg":14},{"h":19.460,"z":5.1,"seg":14},{"h":19.481,"z":2.2,"seg":14},{"h":19.513,"z":1.5,"seg":14},
      {"h":19.556,"z":-2.8,"seg":14},
      {"h":19.952,"z":-4.8,"seg":15},{"h":19.995,"z":-5.9,"seg":15},
      {"h":20.251,"z":2.6,"seg":16},{"h":20.273,"z":4.4,"seg":16},{"h":20.294,"z":1.5,"seg":16},{"h":20.305,"z":-4.8,"seg":16},
      {"h":20.668,"z":7.7,"seg":17},{"h":20.690,"z":9.6,"seg":17},{"h":20.711,"z":3.3,"seg":17},{"h":20.733,"z":5.1,"seg":17},
      {"h":20.754,"z":-3.7,"seg":17},{"h":20.775,"z":-2.2,"seg":17},{"h":20.797,"z":-5.5,"seg":17},
      {"h":21.738,"z":1.8,"seg":18},{"h":21.759,"z":-6.2,"seg":18},
      {"h":21.856,"z":-0.4,"seg":19},{"h":21.877,"z":-4.8,"seg":19},{"h":21.888,"z":-6.4,"seg":19},{"h":21.909,"z":-5.1,"seg":19},
      {"h":21.952,"z":-5.1,"seg":19},
      {"h":22.016,"z":4,"seg":20},{"h":22.037,"z":2.6,"seg":20},{"h":22.059,"z":-2.6,"seg":20},{"h":22.080,"z":2.6,"seg":20},
      {"h":22.166,"z":0.7,"seg":21},{"h":22.176,"z":-2.9,"seg":21}
    ]
  },
  "layer": [
    {
      "data": {"name": "dcr"},
      "mark": {"type": "line", "clip": true, "strokeWidth": 2.2, "strokeJoin": "round"},
      "encoding": {
        "x": {
          "field": "h", "type": "quantitative",
          "scale": {"domain": [0, 24], "nice": false, "zero": false},
          "axis": {
            "orient": "bottom", "values": [0, 3, 6, 9, 12, 15, 18, 21],
            "labelExpr": "(datum.value < 10 ? '0' : '') + datum.value + ':00'",
            "title": null, "grid": true, "gridDash": [4, 4], "gridColor": "#d3d3d3", "gridWidth": 1,
            "tickSize": 5, "labelFontSize": 16, "labelPadding": 5, "labelFlush": false
          }
        },
        "y": {
          "field": "z", "type": "quantitative",
          "scale": {"domain": [-60, 30], "nice": false, "zero": false},
          "axis": {
            "orient": "left", "values": [-60, -50, -40, -30, -20, -10, 0, 10, 20, 30], "format": "d",
            "title": "Zₕ [dBZ]", "titleFontSize": 18, "titleFontWeight": "normal", "titleFontStyle": "italic",
            "titleColor": "black", "titlePadding": 12,
            "grid": true, "gridDash": [4, 4], "gridColor": "#d3d3d3", "gridWidth": 1,
            "tickSize": 5, "labelFontSize": 16, "labelPadding": 3, "labelFlush": false
          }
        },
        "color": {
          "datum": "Zₕ from DCR @ 179m",
          "scale": {"domain": ["Zₕ from DCR @ 179m", "Zₕ modeled from DD"], "range": ["#1f77b4", "#000000"]},
          "legend": {"title": null}
        }
      }
    },
    {
      "data": {"name": "dd"},
      "mark": {"type": "line", "clip": true, "strokeWidth": 2.2, "strokeJoin": "round"},
      "encoding": {
        "x": {
          "field": "h", "type": "quantitative",
          "scale": {"domain": [0, 24], "nice": false, "zero": false},
          "axis": {
            "orient": "bottom", "values": [1, 2, 4, 5, 7, 8, 10, 11, 13, 14, 16, 17, 19, 20, 22, 23],
            "labels": false, "grid": false, "domain": false, "title": null, "tickSize": 3
          }
        },
        "y": {
          "field": "z", "type": "quantitative",
          "scale": {"domain": [-60, 30], "nice": false, "zero": false},
          "axis": {
            "orient": "left",
            "values": [-58, -56, -54, -52, -48, -46, -44, -42, -38, -36, -34, -32, -28, -26, -24, -22, -18, -16, -14, -12, -8, -6, -4, -2, 2, 4, 6, 8, 12, 14, 16, 18, 22, 24, 26, 28],
            "labels": false, "grid": false, "domain": false, "title": null, "tickSize": 3
          }
        },
        "detail": {"field": "seg", "type": "nominal"},
        "color": {"datum": "Zₕ modeled from DD"}
      }
    },
    {
      "data": {"name": "logo"},
      "mark": {
        "type": "arc", "radius": 82, "radius2": 79, "theta": -1.09, "theta2": 1.09,
        "fill": {
          "gradient": "linear", "x1": 0, "y1": 0, "x2": 1, "y2": 0,
          "stops": [{"offset": 0, "color": "#7cc9c4"}, {"offset": 0.45, "color": "#2f6f8a"}, {"offset": 1, "color": "#1b1f4b"}]
        }
      },
      "encoding": {
        "x": {
          "datum": 20.657, "type": "quantitative",
          "scale": {"domain": [0, 24], "nice": false, "zero": false},
          "axis": {
            "orient": "top", "labels": false, "ticks": false, "domain": false, "grid": false,
            "title": "Reflectivity from RPG-Radiometer Physics RPG-FMCW-94 DCR and OTT HydroMet Parsivel2 disdrometer",
            "titleFontSize": 16.6, "titleFontStyle": "italic", "titleFontWeight": "normal", "titleColor": "black", "titlePadding": 7
          }
        },
        "y": {"datum": 35.88, "type": "quantitative", "scale": {"domain": [-60, 30], "nice": false, "zero": false}, "axis": null}
      }
    },
    {
      "data": {"name": "logo"},
      "mark": {"type": "rule", "color": "#1b1f4b", "strokeWidth": 1.5},
      "encoding": {
        "x": {"datum": 21.39, "type": "quantitative", "scale": {"domain": [0, 24], "nice": false, "zero": false}, "axis": null},
        "y": {"datum": 40.0, "type": "quantitative", "scale": {"domain": [-60, 30], "nice": false, "zero": false}, "axis": null},
        "y2": {"datum": 45.3}
      }
    },
    {
      "data": {"name": "logo"},
      "mark": {"type": "text", "fontSize": 29, "color": "#1b1f4b", "align": "center", "baseline": "middle"},
      "encoding": {
        "text": {"value": "A\u200a C\u200a T\u200a R\u200a I\u200a S"},
        "x": {"datum": 20.625, "type": "quantitative", "scale": {"domain": [0, 24], "nice": false, "zero": false}, "axis": null},
        "y": {"datum": 37.8, "type": "quantitative", "scale": {"domain": [-60, 30], "nice": false, "zero": false}, "axis": null}
      }
    },
    {
      "data": {"name": "logo"},
      "mark": {"type": "text", "fontSize": 16, "color": "#1b1f4b", "align": "center", "baseline": "middle"},
      "encoding": {
        "text": {"value": "CCRES"},
        "x": {"datum": 20.65, "type": "quantitative", "scale": {"domain": [0, 24], "nice": false, "zero": false}, "axis": null},
        "y": {"datum": 35.2, "type": "quantitative", "scale": {"domain": [-60, 30], "nice": false, "zero": false}, "axis": null}
      }
    }
  ],
  "resolve": {"axis": {"x": "independent", "y": "independent"}}
}
